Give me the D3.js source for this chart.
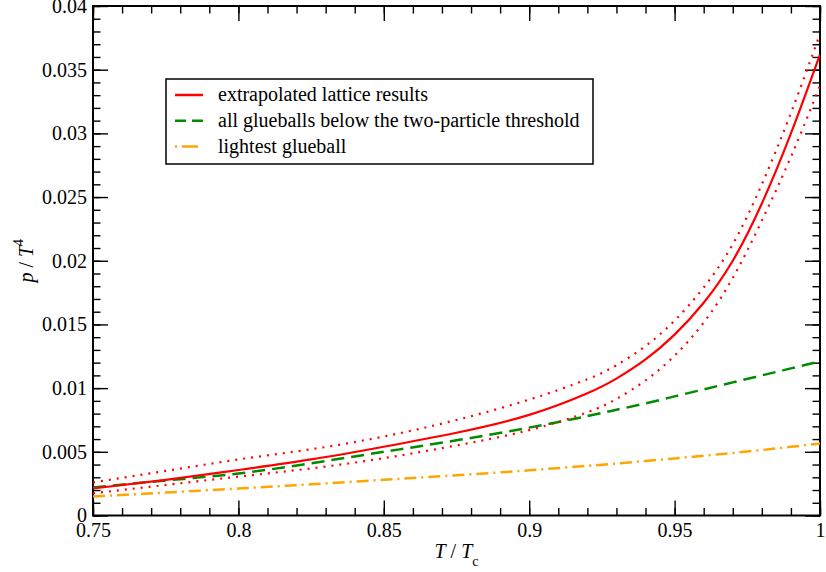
<!DOCTYPE html>
<html lang="en">
<head>
<meta charset="UTF-8">
<title>p / T^4</title>
<style>
  body { margin: 0; background: #fff; }
  svg { display: block; }
  text { font-family: "Liberation Serif", "DejaVu Serif", serif; fill: #000; }
</style>
</head>
<body>
<script src="https://cdn.jsdelivr.net/npm/d3@7/dist/d3.min.js"></script>
<script>
// temperature grid T / Tc
var temps = [0.75, 0.775, 0.8, 0.825, 0.85, 0.875, 0.9, 0.92, 0.93, 0.94, 0.95, 0.96, 0.97, 0.98, 0.99, 1.0];
// extrapolated lattice results (central, upper and lower error)
var lattice      = [0.00212, 0.0028, 0.00357, 0.0044, 0.0054, 0.0065, 0.0079, 0.0096, 0.01075, 0.01225, 0.0142, 0.0167, 0.0200, 0.0245, 0.0300, 0.0362];
var latticeUpper = [0.0026, 0.0035, 0.0044, 0.0052, 0.0062, 0.0075, 0.0091, 0.0107, 0.0118, 0.0133, 0.0153, 0.0179, 0.0213, 0.0260, 0.0316, 0.0378];
var latticeLower = [0.00174, 0.0024, 0.00305, 0.0037, 0.0045, 0.0055, 0.0067, 0.0081, 0.00915, 0.0106, 0.01255, 0.01515, 0.01865, 0.02315, 0.02815, 0.03375];
// all glueballs below the two-particle threshold
var allGlueballs = [0.0022, 0.00275, 0.0033, 0.0041, 0.0050, 0.0059, 0.0069, 0.0078, 0.0083, 0.0088, 0.00935, 0.0099, 0.01045, 0.0110, 0.01155, 0.0121];
// lightest glueball
var lightest     = [0.0015, 0.0018, 0.00212, 0.00245, 0.0028, 0.00316, 0.00355, 0.0039, 0.00408, 0.00428, 0.00448, 0.00469, 0.00491, 0.00514, 0.00539, 0.00565];

var xTicks = [0.75, 0.8, 0.85, 0.9, 0.95, 1];
var xTickLabels = ["0.75", "0.8", "0.85", "0.9", "0.95", "1"];
var yTicks = [0, 0.005, 0.01, 0.015, 0.02, 0.025, 0.03, 0.035, 0.04];
var yTickLabels = ["0", "0.005", "0.01", "0.015", "0.02", "0.025", "0.03", "0.035", "0.04"];
var legendLabels = ["extrapolated lattice results", "all glueballs below the two-particle threshold", "lightest glueball"];

var W = 826, H = 572;
var pLeft = 93, pRight = 820, pTop = 6, pBottom = 515.5;

var svg = d3.select('body').append('svg').attr('width', W).attr('height', H);

var x = d3.scaleLinear().domain([0.75, 1]).range([pLeft, pRight]);
var y = d3.scaleLinear().domain([0, 0.04]).range([pBottom, pTop]);

// minor ticks
var xMinor = d3.range(75, 101).map(function (d) { return d / 100; });
var yMinor = d3.range(0, 41).map(function (d) { return d / 1000; });

function styleAxis(g) {
    g.attr('font-family', null);
    g.select('.domain').remove();
    g.selectAll('.tick line').attr('stroke', '#000').attr('stroke-width', 1.4);
}

// bottom
svg.append('g').attr('transform', 'translate(0,' + pBottom + ')')
    .call(d3.axisBottom(x).tickValues(xMinor).tickSize(-7.5).tickFormat(''))
    .call(styleAxis);
svg.append('g').attr('transform', 'translate(0,' + pBottom + ')')
    .call(d3.axisBottom(x).tickValues(xTicks).tickSize(-15).tickPadding(7)
        .tickFormat(function (d, i) { return xTickLabels[i]; }))
    .call(styleAxis)
    .selectAll('text').attr('font-size', 20);
// top
svg.append('g').attr('transform', 'translate(0,' + pTop + ')')
    .call(d3.axisTop(x).tickValues(xMinor).tickSize(-7.5).tickFormat(''))
    .call(styleAxis);
svg.append('g').attr('transform', 'translate(0,' + pTop + ')')
    .call(d3.axisTop(x).tickValues(xTicks).tickSize(-15).tickFormat(''))
    .call(styleAxis);
// left
svg.append('g').attr('transform', 'translate(' + pLeft + ',0)')
    .call(d3.axisLeft(y).tickValues(yMinor).tickSize(-7.5).tickFormat(''))
    .call(styleAxis);
svg.append('g').attr('transform', 'translate(' + pLeft + ',0)')
    .call(d3.axisLeft(y).tickValues(yTicks).tickSize(-15).tickPadding(6)
        .tickFormat(function (d, i) { return yTickLabels[i]; }))
    .call(styleAxis)
    .selectAll('text').attr('font-size', 20);
// right
svg.append('g').attr('transform', 'translate(' + pRight + ',0)')
    .call(d3.axisRight(y).tickValues(yMinor).tickSize(-7.5).tickFormat(''))
    .call(styleAxis);
svg.append('g').attr('transform', 'translate(' + pRight + ',0)')
    .call(d3.axisRight(y).tickValues(yTicks).tickSize(-15).tickFormat(''))
    .call(styleAxis);

// frame
svg.append('rect').attr('x', pLeft).attr('y', pTop)
    .attr('width', pRight - pLeft).attr('height', pBottom - pTop)
    .attr('fill', 'none').attr('stroke', '#000').attr('stroke-width', 2);

// curves
var line = d3.line()
    .x(function (d, i) { return x(temps[i]); })
    .y(function (d) { return y(d); })
    .curve(d3.curveNatural);

svg.append('clipPath').attr('id', 'plot')
    .append('rect').attr('x', pLeft).attr('y', pTop).attr('width', pRight - pLeft).attr('height', pBottom - pTop);
var plot = svg.append('g').attr('clip-path', 'url(#plot)');

plot.append('path').attr('d', line(lightest)).attr('fill', 'none')
    .attr('stroke', '#ffa500').attr('stroke-width', 2.5).attr('stroke-dasharray', '12,5,2,5');
plot.append('path').attr('d', line(allGlueballs)).attr('fill', 'none')
    .attr('stroke', '#008b00').attr('stroke-width', 2.5).attr('stroke-dasharray', '13,7');
plot.append('path').attr('d', line(latticeUpper)).attr('fill', 'none')
    .attr('stroke', '#ff0000').attr('stroke-width', 2.2).attr('stroke-dasharray', '2,6');
plot.append('path').attr('d', line(latticeLower)).attr('fill', 'none')
    .attr('stroke', '#ff0000').attr('stroke-width', 2.2).attr('stroke-dasharray', '2,6');
plot.append('path').attr('d', line(lattice)).attr('fill', 'none')
    .attr('stroke', '#ff0000').attr('stroke-width', 2.2);

// legend
var lg = svg.append('g');
lg.append('rect').attr('x', 166).attr('y', 79).attr('width', 427).attr('height', 85)
    .attr('fill', '#fff').attr('stroke', '#000').attr('stroke-width', 1.5);
var legendStyles = [
    { color: '#ff0000', dash: null },
    { color: '#008b00', dash: '11,6' },
    { color: '#ffa500', dash: '2,5,16,5' }
];
legendLabels.forEach(function (t, i) {
    var yy = 95 + i * 25.8;
    lg.append('line').attr('x1', 175).attr('x2', 203).attr('y1', yy).attr('y2', yy)
        .attr('stroke', legendStyles[i].color).attr('stroke-width', 2.5)
        .attr('stroke-dasharray', legendStyles[i].dash);
    lg.append('text').attr('x', 218).attr('y', yy + 6).attr('font-size', 20).text(t);
});

// axis titles
var xt = svg.append('text').attr('x', (pLeft + pRight) / 2).attr('y', 558)
    .attr('text-anchor', 'middle').attr('font-size', 20);
xt.append('tspan').attr('font-style', 'italic').text('T');
xt.append('tspan').text(' / ');
xt.append('tspan').attr('font-style', 'italic').text('T');
xt.append('tspan').attr('font-size', 14).attr('dy', 8).text('c');

var yt = svg.append('text')
    .attr('transform', 'translate(33,' + ((pTop + pBottom) / 2) + ') rotate(-90)')
    .attr('text-anchor', 'middle').attr('font-size', 20);
yt.append('tspan').attr('font-style', 'italic').text('p');
yt.append('tspan').text(' / ');
yt.append('tspan').attr('font-style', 'italic').text('T');
yt.append('tspan').attr('font-size', 14).attr('dy', -10).text('4');
</script>
</body>
</html>
